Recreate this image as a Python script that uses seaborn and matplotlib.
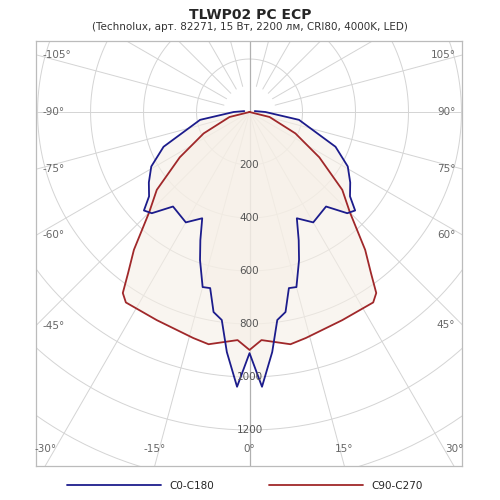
import numpy as np
import pandas as pd
import matplotlib
matplotlib.use("Agg")
import matplotlib.pyplot as plt
import seaborn as sns

# gamma angles (deg from nadir) and intensities (cd), one half, mirrored
c90_angles = [0, 3, 10, 14, 24, 33, 35, 37, 40, 45, 50, 57, 65, 76, 90]
c90_values = [898, 862, 890, 879, 860, 857, 834, 762, 679, 536, 457, 314, 191, 78, 0]
c0_angles = [0, 2.6, 5.4, 7.6, 10.2, 12.6, 15, 18.5, 21, 24, 30, 39, 44, 47, 50, 55, 61, 68, 81, 90, 100]
c0_values = [910, 1038, 910, 792, 767, 681, 684, 589, 518, 439, 481, 459, 531, 545, 495, 464, 424, 350, 189, 60, 20]
series_names = ["C0-C180", "C90-C270"]
ring_values = [200, 400, 600, 800, 1000, 1200]
angle_labels = [-105, -90, -75, -60, -45, -30, -15, 0, 15, 30, 45, 60, 75, 90, 105]

BLUE = "#1c1c8c"
RED = "#a0282a"
XL, XR, YB, YT = -806, 802, -1336, 268

def full(angles, values):
    a = np.array(angles, float); v = np.array(values, float)
    ang = np.concatenate([-a[::-1], a[1:]])
    val = np.concatenate([v[::-1], v[1:]])
    t = np.radians(ang)
    return val * np.sin(t), -val * np.cos(t)

sns.set_style("white")
fig = plt.figure(figsize=(5, 5), dpi=100)
ax = fig.add_axes([36/500, 34/500, 426/500, 425/500])
ax.set_xlim(XL, XR); ax.set_ylim(YB, YT)

grid = "#d4d4d4"
th = np.linspace(0, 2*np.pi, 400)
for r in range(200, 2000, 200):
    ax.plot(r*np.cos(th), r*np.sin(th), color=grid, lw=0.7, zorder=1)
R = 2500
for a in range(-180, 181, 15):
    if a == 0 or abs(a) == 180:
        continue
    t = np.radians(a)
    r0 = 100 if abs(a) > 90 else 0
    ax.plot([r0*np.sin(t), R*np.sin(t)], [-r0*np.cos(t), -R*np.cos(t)], color=grid, lw=0.7, zorder=1)
ax.axvline(0, color="#b0b0b0", lw=0.9, zorder=1)

x0, y0 = full(c0_angles, c0_values)
x9, y9 = full(c90_angles, c90_values)
ax.fill(x9, y9, color="#f6efe6", alpha=0.6, zorder=2, lw=0)
ax.fill(x0, y0, color="#f6efe6", alpha=0.6, zorder=2, lw=0)
sns.lineplot(x=x0, y=y0, sort=False, estimator=None, color=BLUE, lw=1.3, ax=ax, zorder=4, label=series_names[0], legend=False)
sns.lineplot(x=x9, y=y9, sort=False, estimator=None, color=RED, lw=1.3, ax=ax, zorder=3, label=series_names[1], legend=False)

for r in ring_values:
    ax.text(0, -r, str(r), ha="center", va="center", fontsize=7.5, color="#555555", zorder=5)

for a in angle_labels:
    t = np.radians(a)
    s, c = np.sin(t), -np.cos(t)
    if a == 0:
        ax.text(0, YB+45, "0°", ha="center", va="bottom", fontsize=7.5, color="#666666")
        continue
    xe = XL if s < 0 else XR
    k = xe / s
    ye = k * c
    if ye >= YB + 60:
        ax.text(xe + (25 if s < 0 else -25), ye, f"{a}°", ha="left" if s < 0 else "right",
                va="center", fontsize=7.5, color="#666666")
    else:
        xb = YB / c * s
        ax.text(xb, YB+45, f"{a}°", ha="center", va="bottom", fontsize=7.5, color="#666666")

ax.set_xticks([]); ax.set_yticks([])
ax.set_xlabel(""); ax.set_ylabel("")
for sp in ax.spines.values():
    sp.set_color("#bbbbbb"); sp.set_linewidth(0.9)

fig.text(0.5, 0.984, "TLWP02 PC ECP", ha="center", va="top", fontsize=10, fontweight="bold")
fig.text(0.5, 0.955, "(Technolux, арт. 82271, 15 Вт, 2200 лм, CRI80, 4000K, LED)", ha="center", va="top", fontsize=7.5, color="#333333")
h, l = ax.get_legend_handles_labels()
fig.legend(h, l, loc="center", bbox_to_anchor=(0.49, 0.028), ncol=2, frameon=False,
           handlelength=9, columnspacing=5.3, fontsize=7.5)
fig.savefig("out.png", dpi=100)
